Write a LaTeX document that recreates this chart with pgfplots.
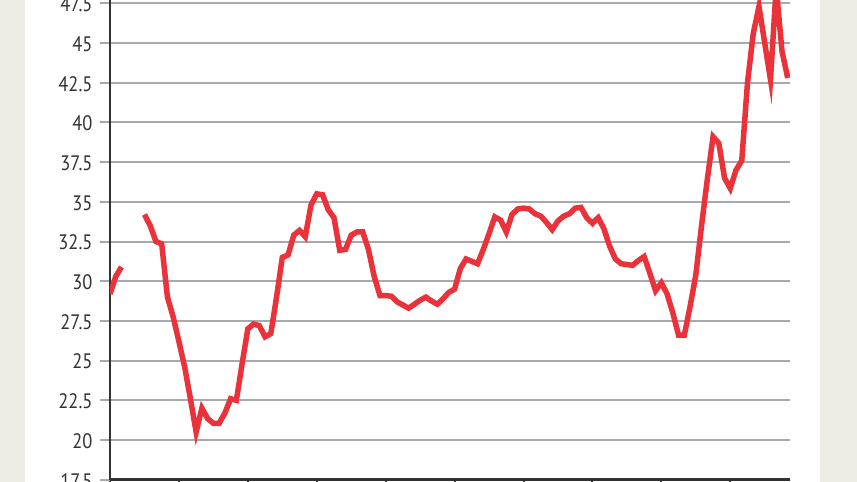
\documentclass[border=0pt]{standalone}
\usepackage{pgfplots}
\pgfplotsset{compat=1.18}
\usepackage{fontspec}
\setmainfont[FakeStretch=0.88]{PT Sans}
\definecolor{bg}{RGB}{237,236,229}
\definecolor{gridc}{RGB}{168,169,172}
\definecolor{axc}{RGB}{50,50,50}
\definecolor{linec}{RGB}{233,50,57}
\begin{document}
\begin{tikzpicture}
\fill[bg] (-110bp,-2.3bp) rectangle (747bp,479.7bp);
\fill[white] (-85bp,-2.3bp) rectangle (710bp,479.7bp);
\begin{axis}[at={(0,0)}, anchor=south west, scale only axis,
  width=680bp, height=479.7bp,
  xmin=0, xmax=118.4, ymin=17.5, ymax=47.71,
  axis x line=bottom, axis y line=left,
  axis line style={-, draw=axc, line width=2.5bp},
  ymajorgrids, major grid style={gridc, line width=2bp},
  ytick={17.5,20,22.5,25,27.5,30,32.5,35,37.5,40,42.5,45,47.5},
  yticklabels={17.5,20,22.5,25,27.5,30,32.5,35,37.5,40,42.5,45,47.5},
  xtick={0,12,24,36,48,60,72,84,96,108}, xticklabels={},
  tick align=outside, major tick length=10bp,
  y tick style={gridc, line width=2bp},
  x tick style={axc, line width=2bp},
  tick label style={/pgf/number format/assume math mode=true},
  yticklabel style={font=\fontsize{21}{24}\selectfont, text=axc, xshift=-4bp, yshift=-1bp},
]
\addplot[linec, line width=5.5bp] coordinates {(0,29.2)(1,30.3)(2,30.9)};
\addplot[linec, line width=5.5bp] coordinates {
(6,34.2)(7,33.5)(8,32.5)(9,32.35)(10,29.0)(11,27.75)(12,26.2)(13,24.6)(14,22.6)
(15,20.5)(16,22.0)(17,21.35)(18,21.05)(19,21.05)(20,21.7)(21,22.6)(22,22.5)
(23,24.8)(24,27.0)(25,27.3)(26,27.2)(27,26.5)(28,26.7)(29,29.0)(30,31.5)
(31,31.65)(32,32.9)(33,33.2)(34,32.8)(35,34.8)(36,35.5)(37,35.45)(38,34.5)
(39,34.0)(40,31.95)(41,32.0)(42,32.9)(43,33.1)(44,33.1)(45,32.0)(46,30.3)
(47,29.1)(48,29.1)(49,29.05)(50,28.7)(51,28.5)(52,28.3)(53,28.55)(54,28.8)
(55,29.0)(56,28.75)(57,28.55)(58,28.9)(59,29.3)(60,29.5)(61,30.8)(62,31.4)
(63,31.25)(64,31.1)(65,32.0)(66,33.0)(67,34.05)(68,33.85)(69,33.1)(70,34.2)
(71,34.55)(72,34.6)(73,34.55)(74,34.25)(75,34.1)(76,33.7)(77,33.25)(78,33.8)
(79,34.1)(80,34.25)(81,34.6)(82,34.65)(83,34.0)(84,33.65)(85,34.0)(86,33.3)
(87,32.2)(88,31.4)(89,31.1)(90,31.05)(91,31.0)(92,31.3)(93,31.55)(94,30.5)
(95,29.4)(96,29.9)(97,29.2)(98,28.0)(99,26.6)(100,26.6)(101,28.4)(102,30.4)
(103,33.5)(104,36.4)(105,39.1)(106,38.7)(107,36.5)(108,35.85)(109,37.0)
(110,37.6)(111,42.5)(112,45.6)(113,47.3)(114,45.0)(115,42.7)(116,48.5)
(117,44.5)(118,42.8)};
\end{axis}
\pgfresetboundingbox
\useasboundingbox (-110bp,-2.3bp) rectangle (747bp,479.7bp);
\end{tikzpicture}
\end{document}
